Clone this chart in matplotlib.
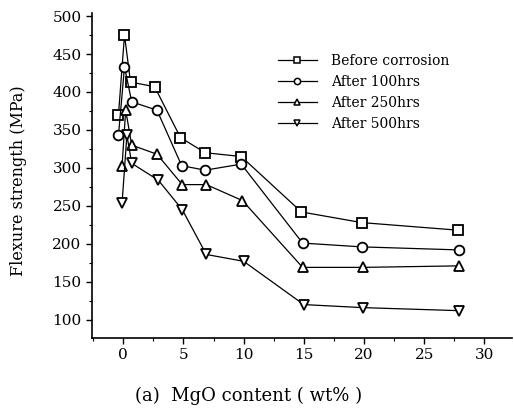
import matplotlib
matplotlib.use("Agg")
import matplotlib.pyplot as plt
from matplotlib.ticker import MultipleLocator

plt.rcParams['font.family'] = ['DejaVu Serif']

labels = ["Before corrosion", "After 100hrs", "After 250hrs", "After 500hrs"]
markers = ["s", "o", "^", "v"]

x_before = [-0.4, 0.1, 0.6, 2.6, 4.75, 6.8, 9.8, 14.8, 19.8, 27.8]
y_before = [370, 475, 413, 407, 340, 320, 315, 242, 228, 218]
x_100 = [-0.4, 0.1, 0.7, 2.8, 4.85, 6.8, 9.8, 14.9, 19.8, 27.9]
y_100 = [343, 433, 387, 376, 303, 297, 305, 201, 196, 192]
x_250 = [-0.1, 0.2, 0.7, 2.8, 4.9, 6.9, 9.9, 14.9, 19.9, 27.9]
y_250 = [303, 376, 330, 318, 278, 278, 257, 169, 169, 171]
x_500 = [-0.1, 0.3, 0.7, 2.9, 4.9, 6.9, 10.0, 15.0, 19.9, 27.9]
y_500 = [254, 343, 306, 284, 245, 186, 177, 120, 116, 112]

xs = [x_before, x_100, x_250, x_500]
ys = [y_before, y_100, y_250, y_500]

fig = plt.figure(figsize=(5.14, 4.12), dpi=100)
ax = fig.add_axes([92/514, (412-338)/412, (512-92)/514, (338-13)/412])

for x, y, m, lab in zip(xs, ys, markers, labels):
    ax.plot(x, y, color='black', lw=0.9, marker=m, markersize=7,
            markerfacecolor='white', markeredgecolor='black', markeredgewidth=1.3,
            label=lab)

ax.set_xlim(-2.6, 32.3)
ax.set_ylim(76, 504)
ax.xaxis.set_major_locator(MultipleLocator(5))
ax.xaxis.set_minor_locator(MultipleLocator(2.5))
ax.set_yticks(range(100, 501, 50))
ax.yaxis.set_minor_locator(MultipleLocator(25))

for s in ['top', 'right']:
    ax.spines[s].set_visible(False)
for s in ['left', 'bottom']:
    ax.spines[s].set_linewidth(1.2)

ax.tick_params(axis='both', which='major', direction='out', length=4, width=1, labelsize=11)
ax.tick_params(axis='both', which='minor', direction='out', length=2.5, width=0.8)

ax.set_ylabel("Flexure strength (MPa)", fontsize=11.5)
ax.yaxis.set_label_coords(-0.155, 0.483)

fig.text(249/514, 1-396/412, "(a)  MgO content ( wt% )", ha='center', va='center', fontsize=13)

leg = ax.legend(loc='upper left', bbox_to_anchor=(278/514, 1-54/412),
                bbox_transform=fig.transFigure, frameon=False, fontsize=10,
                borderpad=0, borderaxespad=0, handlelength=2.8, handletextpad=1.0,
                labelspacing=0.5)
for h in leg.legend_handles:
    h.set_markersize(4.5)
    h.set_markeredgewidth(1.1)

fig.savefig("out.png", dpi=100)
